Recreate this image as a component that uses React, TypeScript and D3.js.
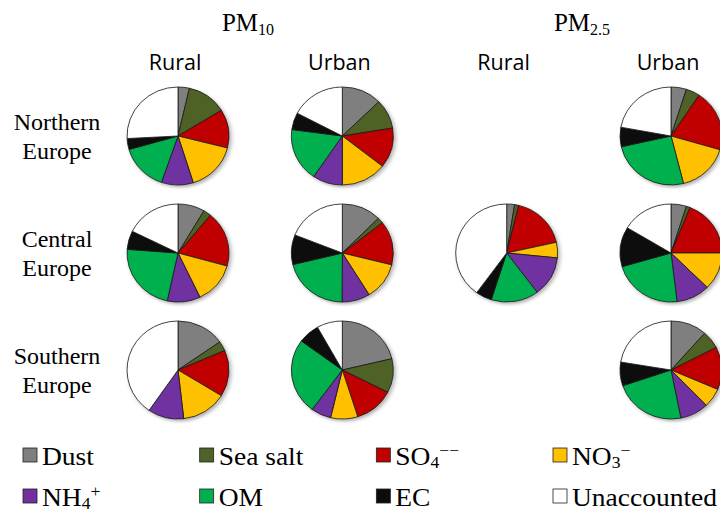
import React from "react";
import * as d3 from "d3";

// Aerosol components, clockwise from 12 o'clock
const components = ["Dust", "Sea salt", "SO4", "NO3", "NH4", "OM", "EC", "Unaccounted"];
const componentColors = ["#7f7f7f", "#4f6228", "#c00000", "#ffc000", "#7030a0", "#00b050", "#0c0c0c", "#ffffff"];

// Column / row headings
const columns = ["PM10 Rural", "PM10 Urban", "PM2.5 Rural", "PM2.5 Urban"];
const regions = ["Northern", "Central", "Southern"];

// Mass closure shares (%) per site type and region
const pm10RuralNorth = [3.6, 12.6, 12.7, 16.2, 10.1, 15.3, 3.6, 25.8];
const pm10UrbanNorth = [12.7, 9.7, 13.2, 14.4, 9.5, 17.6, 5.6, 17.3];
const pm25UrbanNorth = [4.9, 4.4, 20.2, 16.5, 0, 25.4, 6.4, 22.1];
const pm10RuralCentral = [8.5, 2.5, 18.3, 13.6, 10.5, 22.8, 6.1, 17.7];
const pm10UrbanCentral = [12.5, 1.9, 14.5, 12.3, 8.9, 21.1, 9.8, 19.0];
const pm25RuralCentral = [2.5, 1.3, 17.7, 5.1, 13.2, 15.1, 5.1, 40.0];
const pm25UrbanCentral = [4.9, 1.2, 18.9, 12.4, 10.7, 22.4, 13.1, 16.4];
const pm10RuralSouth = [15.3, 3.2, 15.3, 14.4, 11.4, 0, 0, 40.4];
const pm10UrbanSouth = [21.3, 11.2, 12.6, 8.6, 6.4, 25.0, 6.8, 8.1];
const pm25UrbanSouth = [11.5, 5.9, 14.1, 6.3, 9.1, 22.9, 7.8, 22.4];

const pies = [
  { col: "PM10 Rural", row: "Northern", values: pm10RuralNorth },
  { col: "PM10 Urban", row: "Northern", values: pm10UrbanNorth },
  { col: "PM2.5 Urban", row: "Northern", values: pm25UrbanNorth },
  { col: "PM10 Rural", row: "Central", values: pm10RuralCentral },
  { col: "PM10 Urban", row: "Central", values: pm10UrbanCentral },
  { col: "PM2.5 Rural", row: "Central", values: pm25RuralCentral },
  { col: "PM2.5 Urban", row: "Central", values: pm25UrbanCentral },
  { col: "PM10 Rural", row: "Southern", values: pm10RuralSouth },
  { col: "PM10 Urban", row: "Southern", values: pm10UrbanSouth },
  { col: "PM2.5 Urban", row: "Southern", values: pm25UrbanSouth },
];

const W = 720;
const H = 512;
const R = 49;

const x = d3.scalePoint<string>().domain(columns).range([178, 671]);
const y = d3.scalePoint<string>().domain(regions).range([136, 370]);

const pieGen = d3.pie<number>().sort(null).value((d) => d);
const arcGen = d3.arc<d3.PieArcDatum<number>>().innerRadius(0).outerRadius(R);

const serif = "'Liberation Serif', 'Times New Roman', serif";
const sans = "'Open Sans', 'Liberation Sans', sans-serif";

function LegendLabel({ name }: { name: string }) {
  const parts: Record<string, [string, string, string]> = {
    SO4: ["SO", "4", "−−"],
    NO3: ["NO", "3", "−"],
    NH4: ["NH", "4", "+"],
  };
  const p = parts[name];
  if (!p) return <>{name}</>;
  return (
    <>
      {p[0]}
      <tspan dy={3} fontSize={16}>{p[1]}</tspan>
      <tspan dy={-12} fontSize={16}>{p[2]}</tspan>
    </>
  );
}

export default function App() {
  const legendX = d3.scalePoint<number>().domain([0, 1, 2, 3]).range([23, 553]);
  return (
    <div style={{ position: "absolute", left: 0, top: 0 }}>
      <svg width={W} height={H} style={{ display: "block", background: "#fff" }}>
        <defs>
          <filter id="pieShadow" x="-20%" y="-20%" width="140%" height="140%">
            <feDropShadow dx={2} dy={2} stdDeviation={1.8} floodColor="#000" floodOpacity={0.3} />
          </filter>
        </defs>

        {/* group headings */}
        <text x={248} y={31} fontFamily={serif} fontSize={25} textAnchor="middle" fill="#000">
          PM<tspan fontSize={16} dy={4}>10</tspan>
        </text>
        <text x={582} y={31} fontFamily={serif} fontSize={25} textAnchor="middle" fill="#000">
          PM<tspan fontSize={16} dy={4}>2.5</tspan>
        </text>

        {/* site type headings */}
        {columns.map((c) => (
          <text key={c} x={(x(c) as number) - 3} y={70} fontFamily={sans} fontSize={21.5}
            textAnchor="middle" fill="#000">
            {c.split(" ")[1]}
          </text>
        ))}

        {/* region labels */}
        {regions.map((r) => (
          <text key={r} fontFamily={serif} fontSize={24} textAnchor="middle" fill="#000">
            <tspan x={57} y={(y(r) as number) - 6}>{r}</tspan>
            <tspan x={57} y={(y(r) as number) + 23}>Europe</tspan>
          </text>
        ))}

        {/* pies */}
        {pies.map((p, i) => (
          <g key={i} transform={`translate(${x(p.col)},${y(p.row)}) scale(1.04,1)`} filter="url(#pieShadow)">
            {pieGen(p.values).map((a, j) =>
              a.value > 0 ? (
                <path key={j} d={arcGen(a) as string} fill={componentColors[j]}
                  stroke="#1a1a1a" strokeWidth={0.8} strokeLinejoin="round" />
              ) : null
            )}
          </g>
        ))}

        {/* legend */}
        {components.map((c, i) => {
          const lx = legendX(i % 4) as number;
          const ly = i < 4 ? 455 : 496;
          return (
            <g key={c}>
              <rect x={lx} y={ly - 7} width={14} height={14} fill={componentColors[i]}
                stroke="#222" strokeWidth={0.8} />
              <text transform={`translate(${lx + 19},${ly + 10}) scale(1.1,1)`}
                fontFamily={serif} fontSize={25} fill="#000">
                <LegendLabel name={c} />
              </text>
            </g>
          );
        })}
      </svg>
    </div>
  );
}
